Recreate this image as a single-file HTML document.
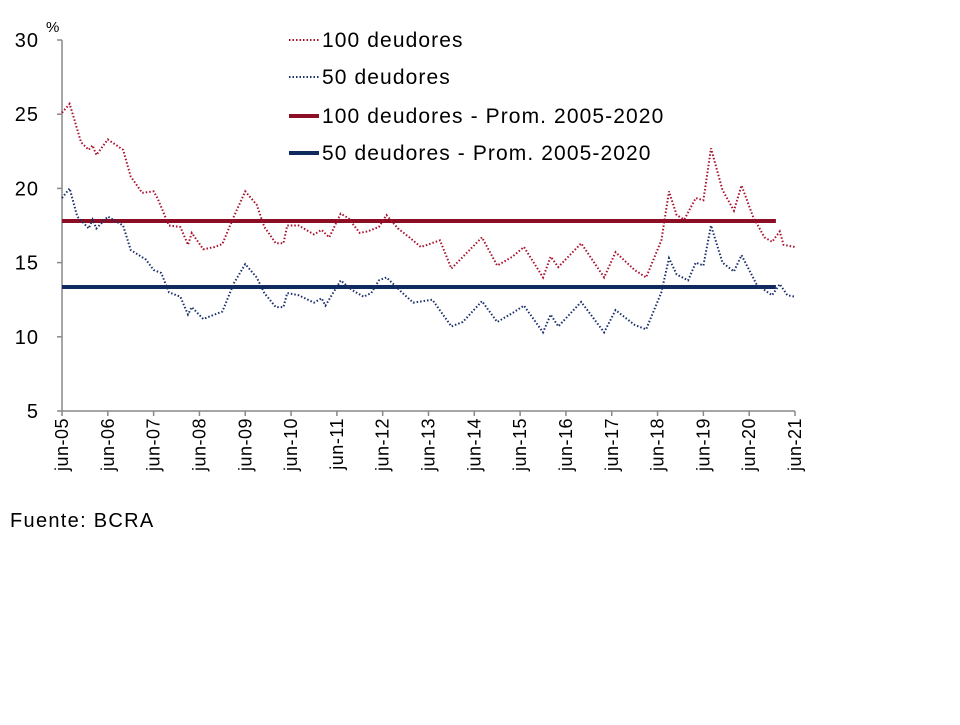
<!DOCTYPE html>
<html><head><meta charset="utf-8"><style>
body{margin:0;background:#fff;font-family:"Liberation Sans",sans-serif}
svg text{font-family:"Liberation Sans",sans-serif;fill:#000}
</style></head><body>
<svg width="960" height="720" id="chart">
<g id="g"></g>
</svg>
<script>
const years=["jun-05","jun-06","jun-07","jun-08","jun-09","jun-10","jun-11","jun-12","jun-13","jun-14","jun-15","jun-16","jun-17","jun-18","jun-19","jun-20","jun-21"];
const yTicks=[5,10,15,20,25,30];
const redMonths=[0,2,5,7,8,9,12,16,18,21,24,25,28,31,33,34,37,40,42,45,48,51,53,56,58,59,62,66,68,70,73,75,78,80,83,85,88,91,94,99,102,110,114,118,121,126,128,130,136,142,145,150,153,157,159,161,163,166,168,170,173,176,178,181,184,186,188,189,192];
const redVals=[25.1,25.7,23.1,22.6,22.9,22.25,23.3,22.6,20.8,19.7,19.8,19.35,17.5,17.4,16.2,17.0,15.9,16.05,16.25,18.1,19.8,18.9,17.4,16.3,16.3,17.5,17.5,16.9,17.2,16.7,18.3,18.0,17.0,17.1,17.4,18.2,17.3,16.7,16.05,16.5,14.6,16.7,14.8,15.4,16.05,14.0,15.4,14.7,16.3,14.0,15.7,14.5,14.0,16.5,19.8,18.2,17.9,19.35,19.2,22.7,19.9,18.5,20.2,18.1,16.7,16.4,17.1,16.2,16.05];
const blueMonths=[0,2,4,7,8,9,12,16,18,22,24,26,28,31,33,34,37,40,42,45,48,51,53,56,58,59,62,66,68,69,73,76,79,81,83,85,89,92,97,102,105,110,114,118,121,126,128,130,136,142,145,150,153,157,159,161,164,166,168,170,173,176,178,182,186,188,190,192];
const blueVals=[19.35,20.0,18.1,17.3,17.9,17.3,18.1,17.5,15.85,15.2,14.5,14.3,13.0,12.7,11.5,12.0,11.2,11.5,11.7,13.6,14.9,14.0,12.95,12.0,12.0,12.95,12.8,12.3,12.6,12.1,13.8,13.15,12.7,12.95,13.8,14.0,13.0,12.3,12.5,10.7,11.0,12.4,11.0,11.6,12.1,10.3,11.5,10.7,12.35,10.3,11.8,10.8,10.5,13.0,15.3,14.2,13.8,15.0,14.8,17.5,15.0,14.4,15.5,13.5,12.8,13.55,12.8,12.7];
const avgRed=17.8, avgBlue=13.36, avgEndMonth=187;
const NS="http://www.w3.org/2000/svg";
const g=document.getElementById('g');
const X=m=>62+m*(733/192);
const Y=v=>411-(v-5)*(371/25);
function el(t,a,p){const e=document.createElementNS(NS,t);for(const k in a)e.setAttribute(k,a[k]);(p||g).appendChild(e);return e;}
let a=el('line',{x1:62,y1:40,x2:62,y2:411,stroke:'#888','stroke-width':1.5});


a=el('line',{x1:62,y1:411,x2:795,y2:411,stroke:'#888','stroke-width':1.5});


yTicks.forEach(v=>{
 el('line',{x1:57,y1:Y(v),x2:62,y2:Y(v),stroke:'#888','stroke-width':1.5});
 const t=el('text',{x:39,y:Y(v)+7,'text-anchor':'end','font-size':20,'letter-spacing':1});t.textContent=v;
 
 
});
years.forEach((lab,i)=>{
 const x=X(i*12);
 el('line',{x1:x,y1:411,x2:x,y2:416,stroke:'#888','stroke-width':1.5});
 const t=el('text',{transform:`translate(${x+6},418) rotate(-90)`,'text-anchor':'end','font-size':18,'letter-spacing':0.5});t.textContent=lab;
 
 
});
let u=el('text',{x:46,y:32,'font-size':15});u.textContent='%';


function series(ms,vs,color,name){
 const p=el('polyline',{points:ms.map((m,i)=>X(m)+','+Y(vs[i])).join(' '),fill:'none',stroke:color,'stroke-width':2,'stroke-dasharray':'1.5 2'});
 
 
}
let l=el('line',{x1:X(0),y1:Y(avgRed),x2:X(avgEndMonth),y2:Y(avgRed),stroke:'#8b0e25','stroke-width':4});


l=el('line',{x1:X(0),y1:Y(avgBlue),x2:X(avgEndMonth),y2:Y(avgBlue),stroke:'#0f2a5e','stroke-width':4});


series(redMonths,redVals,'#a8102c','series-100-deudores');
series(blueMonths,blueVals,'#1b2f6b','series-50-deudores');
const leg=[["100 deudores",'#a8102c',true,40],["50 deudores",'#1b2f6b',true,77],["100 deudores - Prom. 2005-2020",'#8b0e25',false,116],["50 deudores - Prom. 2005-2020",'#0f2a5e',false,153]];
leg.forEach(([txt,c,dot,y])=>{
 const s=el('line',{x1:289,y1:y,x2:319,y2:y,stroke:c,'stroke-width':dot?2:4,'stroke-dasharray':dot?'1.5 2':'none'});
 
 
 const t=el('text',{x:322,y:y+7,'font-size':21,'letter-spacing':1.1});t.textContent=txt;
 
 
});
const f=el('text',{x:10,y:527,'font-size':20,'letter-spacing':1.3});f.textContent='Fuente: BCRA';


</script>
</body></html>
